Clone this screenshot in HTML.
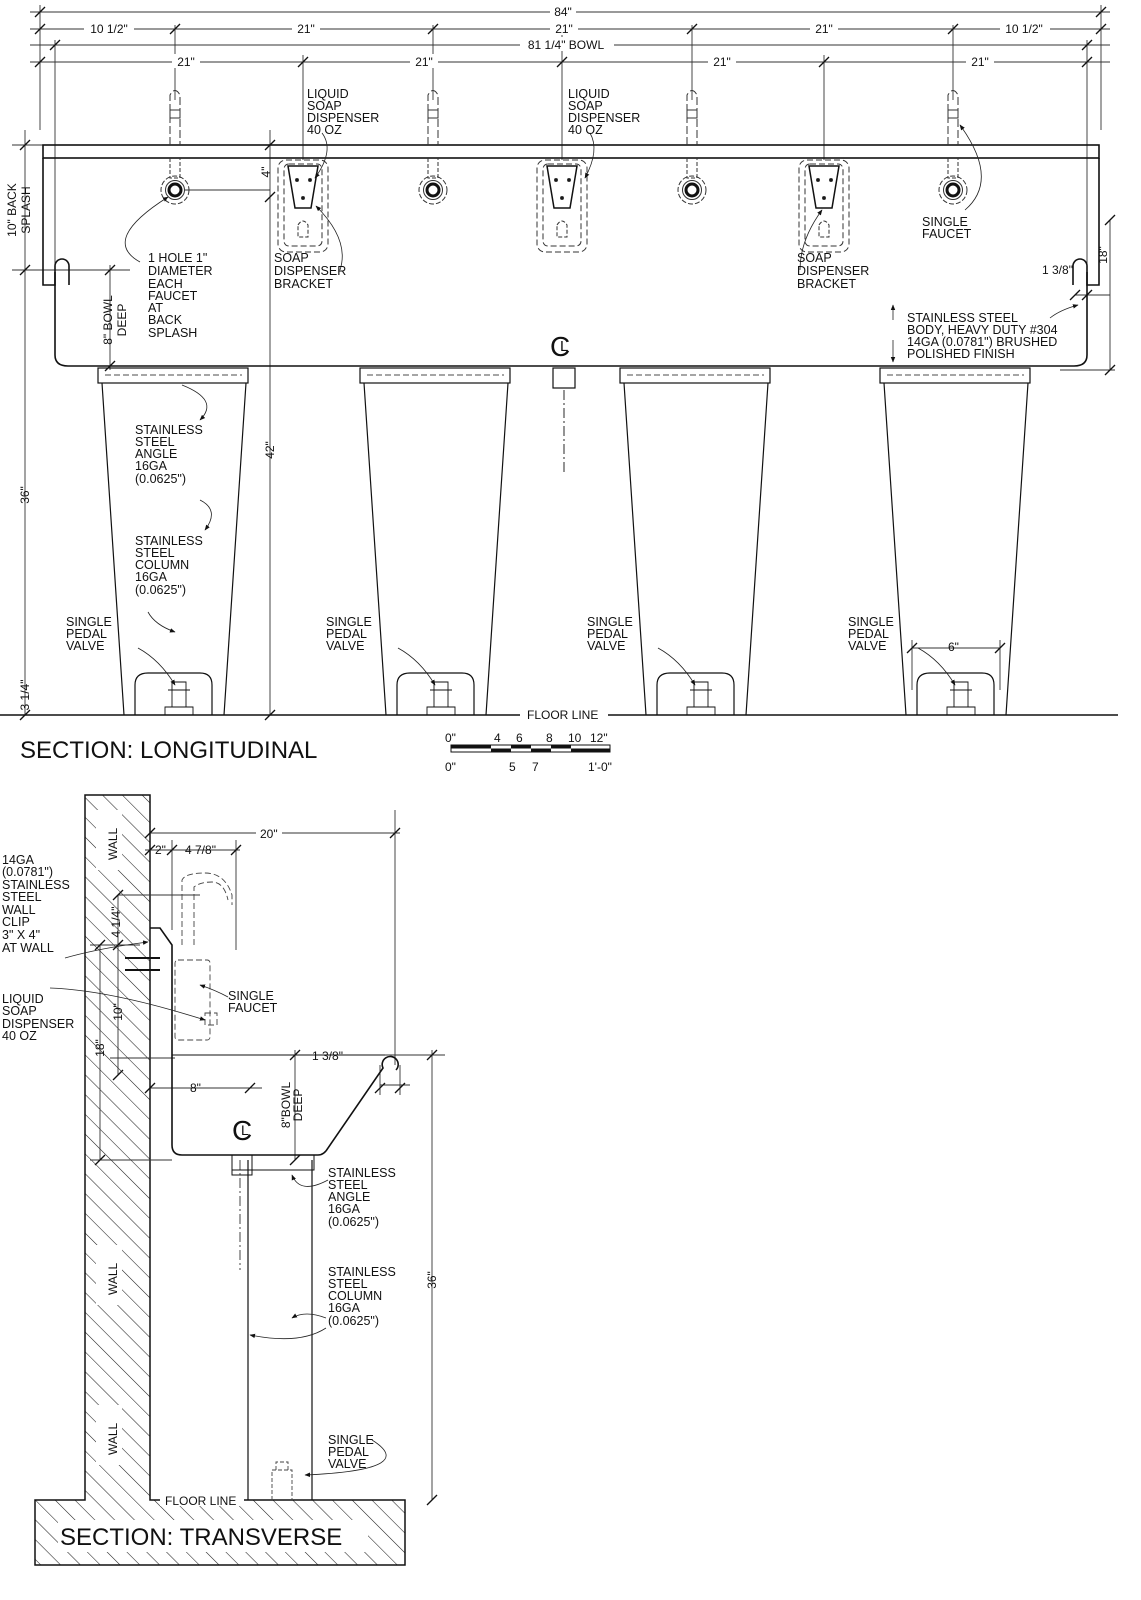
<!DOCTYPE html>
<html><head><meta charset="utf-8"><style>
html,body{margin:0;padding:0;background:#fff}
svg{display:block}
text{font-family:"Liberation Sans",Arial,sans-serif;fill:#111}
.t{font-size:12.5px}
.d{font-size:12px}
</style></head><body>
<svg width="1141" height="1600" viewBox="0 0 1141 1600" xmlns="http://www.w3.org/2000/svg">
<defs>
<pattern id="h" width="14" height="14" patternUnits="userSpaceOnUse" patternTransform="rotate(-45)">
<line x1="0" y1="0" x2="0" y2="14" stroke="#222" stroke-width="1.1"/></pattern>
<g id="tick"><line x1="-5" y1="5" x2="5" y2="-5" stroke="#111" stroke-width="1.3"/></g>
<marker id="ar" viewBox="0 0 10 10" refX="9" refY="5" markerWidth="7" markerHeight="7" orient="auto"><path d="M0 1 L10 5 L0 9 Z" fill="#111"/></marker>
</defs>
<g fill="none" stroke="#333" stroke-width="0.9">
<line x1="30" y1="12" x2="1110" y2="12"/>
<line x1="30" y1="29" x2="1110" y2="29"/>
<line x1="30" y1="45" x2="1110" y2="45"/>
<line x1="30" y1="62" x2="1110" y2="62"/>
<line x1="40" y1="5" x2="40" y2="130"/>
<line x1="1101" y1="5" x2="1101" y2="130"/>
<line x1="55" y1="40" x2="55" y2="285"/>
<line x1="1087" y1="40" x2="1087" y2="285"/>
<line x1="175" y1="25" x2="175" y2="100"/>
<line x1="433" y1="25" x2="433" y2="100"/>
<line x1="692" y1="25" x2="692" y2="100"/>
<line x1="953" y1="25" x2="953" y2="100"/>
<line x1="303" y1="55" x2="303" y2="160"/>
<line x1="562" y1="25" x2="562" y2="160"/>
<line x1="824" y1="55" x2="824" y2="160"/>
<line x1="25" y1="130" x2="25" y2="715"/>
<line x1="110" y1="265" x2="110" y2="370"/>
<line x1="270" y1="130" x2="270" y2="715"/>
<line x1="12" y1="145" x2="45" y2="145"/>
<line x1="12" y1="270" x2="130" y2="270"/>
<line x1="185" y1="190" x2="270" y2="190"/>
<line x1="1110" y1="220" x2="1110" y2="370"/>
<line x1="1075" y1="295" x2="1110" y2="295"/>
<line x1="1060" y1="370" x2="1115" y2="370"/>
<line x1="912" y1="648" x2="1000" y2="648"/>
<line x1="912" y1="640" x2="912" y2="690"/>
<line x1="1000" y1="640" x2="1000" y2="690"/>
</g>
<g>
<use href="#tick" x="40" y="12"/><use href="#tick" x="1101" y="12"/>
<use href="#tick" x="40" y="29"/><use href="#tick" x="175" y="29"/><use href="#tick" x="433" y="29"/><use href="#tick" x="692" y="29"/><use href="#tick" x="953" y="29"/><use href="#tick" x="1101" y="29"/>
<use href="#tick" x="55" y="45"/><use href="#tick" x="1087" y="45"/>
<use href="#tick" x="40" y="62"/><use href="#tick" x="303" y="62"/><use href="#tick" x="562" y="62"/><use href="#tick" x="824" y="62"/><use href="#tick" x="1087" y="62"/>
<use href="#tick" x="25" y="145"/><use href="#tick" x="25" y="270"/><use href="#tick" x="25" y="715"/>
<use href="#tick" x="110" y="270"/><use href="#tick" x="110" y="366"/>
<use href="#tick" x="270" y="145"/><use href="#tick" x="270" y="197"/><use href="#tick" x="270" y="715"/>
<use href="#tick" x="1110" y="220"/><use href="#tick" x="1110" y="370"/><use href="#tick" x="1075" y="295"/><use href="#tick" x="1087" y="295"/>
<use href="#tick" x="912" y="648"/><use href="#tick" x="1000" y="648"/>
</g>
<g class="d" text-anchor="middle">
<rect x="550" y="4" width="26" height="14" fill="#fff"/><text x="563" y="16">84"</text>
<rect x="84" y="21" width="50" height="14" fill="#fff"/><text x="109" y="33">10 1/2"</text>
<rect x="292" y="21" width="28" height="14" fill="#fff"/><text x="306" y="33">21"</text>
<rect x="550" y="21" width="28" height="14" fill="#fff"/><text x="564" y="33">21"</text>
<rect x="810" y="21" width="28" height="14" fill="#fff"/><text x="824" y="33">21"</text>
<rect x="1000" y="21" width="50" height="14" fill="#fff"/><text x="1024" y="33">10 1/2"</text>
<rect x="520" y="37" width="94" height="14" fill="#fff"/><text x="566" y="49">81 1/4" BOWL</text>
<rect x="172" y="54" width="28" height="14" fill="#fff"/><text x="186" y="66">21"</text>
<rect x="410" y="54" width="28" height="14" fill="#fff"/><text x="424" y="66">21"</text>
<rect x="708" y="54" width="28" height="14" fill="#fff"/><text x="722" y="66">21"</text>
<rect x="966" y="54" width="28" height="14" fill="#fff"/><text x="980" y="66">21"</text>
</g>
<g class="d">
<text transform="translate(16,210) rotate(-90)" text-anchor="middle">10" BACK</text>
<text transform="translate(30,210) rotate(-90)" text-anchor="middle">SPLASH</text>
<text transform="translate(112,320) rotate(-90)" text-anchor="middle">8" BOWL</text>
<text transform="translate(126,320) rotate(-90)" text-anchor="middle">DEEP</text>
<text transform="translate(29,495) rotate(-90)" text-anchor="middle">36"</text>
<text transform="translate(274,450) rotate(-90)" text-anchor="middle">42"</text>
<text transform="translate(270,172) rotate(-90)" text-anchor="middle">4"</text>
<text transform="translate(29,695) rotate(-90)" text-anchor="middle">3 1/4"</text>
<text transform="translate(1107,255) rotate(-90)" text-anchor="middle">18"</text>
<text x="1042" y="274">1 3/8"</text>
<text x="948" y="651">6"</text>
</g>
<g fill="none" stroke="#111" stroke-width="1.6">
<rect x="43" y="145" width="1056" height="13"/>
<path d="M43 158 V285 H55 V266 A7 7 0 0 1 69 266 V285"/>
<path d="M1099 158 V285 H1087 V266 A7 7 0 0 0 1073 266 V285"/>
<path d="M55 272 V355 Q55 366 68 366 H1074 Q1087 366 1087 355 V272"/>
</g>
<g fill="none" stroke="#111" stroke-width="1.2">
<g id="col">
<rect x="98" y="368" width="150" height="15"/>
<line x1="105" y1="375" x2="242" y2="375" stroke-dasharray="6 3" stroke-width="0.8"/>
<path d="M102 383 L124 715 M246 383 L224 715"/>
<path d="M135 715 V685 Q135 673 148 673 H200 Q212 673 212 685 V715"/>
<path d="M165 715 v-8 h28 v8 M172 707 v-25 h14 v25 M168 690 h22" stroke-width="0.9"/>
</g>
<use href="#col" x="262"/><use href="#col" x="522"/><use href="#col" x="782"/>
<rect x="553" y="368" width="22" height="20"/>
<line x1="564" y1="390" x2="564" y2="475" stroke-dasharray="10 3 2 3" stroke-width="0.9"/>
<line x1="0" y1="715" x2="1118" y2="715" stroke-width="1.6"/>
</g>
<g fill="none" stroke="#333" stroke-width="1">
<g id="fau">
<path d="M170 145 V95 Q175 86 180 95 V145" stroke-dasharray="8 3"/>
<rect x="170" y="110" width="10" height="8"/>
<path d="M170 158 V178 H180 V158" stroke-dasharray="4 2"/>
<circle cx="175" cy="190" r="14" stroke-dasharray="5 2"/>
<circle cx="175" cy="190" r="9.5"/>
<circle cx="175" cy="190" r="6" stroke-width="3" stroke="#111"/>
</g>
<use href="#fau" x="258"/><use href="#fau" x="517"/><use href="#fau" x="778"/>
<g id="soap">
<rect x="278" y="160" width="50" height="92" rx="8" stroke-dasharray="6 3"/>
<rect x="284" y="164" width="38" height="82" rx="5" stroke-dasharray="6 3"/>
<path d="M288 166 H318 L311 208 H295 Z" stroke="#111" stroke-width="1.5"/>
<circle cx="297" cy="180" r="1.5" fill="#111"/><circle cx="310" cy="180" r="1.5" fill="#111"/><circle cx="303" cy="198" r="1.5" fill="#111"/>
<path d="M298 225 q5 -8 10 0 v12 h-10 z" stroke-dasharray="4 2"/>
</g>
<use href="#soap" x="259"/><use href="#soap" x="521"/>
</g>
<g fill="none" stroke="#222" stroke-width="0.8" marker-end="url(#ar)">
<path d="M140 262 Q100 240 168 197"/>
<path d="M340 270 Q350 240 316 206"/>
<path d="M322 133 Q335 150 315 178"/>
<path d="M590 133 Q600 150 585 178"/>
<path d="M800 270 Q800 240 822 210"/>
<path d="M965 210 Q1000 180 960 125"/>
<path d="M182 385 Q220 400 200 420"/>
<path d="M200 500 Q220 510 205 530"/>
<path d="M148 612 Q155 625 175 632"/>
<path d="M138 648 Q160 660 175 685"/>
<path d="M398 648 Q420 660 435 685"/>
<path d="M658 648 Q680 660 695 685"/>
<path d="M918 648 Q940 660 955 685"/>
<path d="M1050 318 Q1060 310 1078 305"/>
<path d="M893 320 V305"/>
<path d="M893 340 V362"/>
</g>
<g class="t">
<text x="307" y="98">LIQUID</text><text x="307" y="110">SOAP</text><text x="307" y="122">DISPENSER</text><text x="307" y="134">40 OZ</text>
<text x="568" y="98">LIQUID</text><text x="568" y="110">SOAP</text><text x="568" y="122">DISPENSER</text><text x="568" y="134">40 OZ</text>
<text x="148" y="262">1 HOLE 1"</text><text x="148" y="275">DIAMETER</text><text x="148" y="288">EACH</text><text x="148" y="300">FAUCET</text><text x="148" y="312">AT</text><text x="148" y="324">BACK</text><text x="148" y="337">SPLASH</text>
<text x="274" y="262">SOAP</text><text x="274" y="275">DISPENSER</text><text x="274" y="288">BRACKET</text>
<text x="797" y="262">SOAP</text><text x="797" y="275">DISPENSER</text><text x="797" y="288">BRACKET</text>
<text x="922" y="226">SINGLE</text><text x="922" y="238">FAUCET</text>
<text x="907" y="322">STAINLESS STEEL</text><text x="907" y="334">BODY, HEAVY DUTY #304</text><text x="907" y="346">14GA (0.0781") BRUSHED</text><text x="907" y="358">POLISHED FINISH</text>
<text x="135" y="434">STAINLESS</text><text x="135" y="446">STEEL</text><text x="135" y="458">ANGLE</text><text x="135" y="470">16GA</text><text x="135" y="483">(0.0625")</text>
<text x="135" y="545">STAINLESS</text><text x="135" y="557">STEEL</text><text x="135" y="569">COLUMN</text><text x="135" y="581">16GA</text><text x="135" y="594">(0.0625")</text>
<text x="66" y="626">SINGLE</text><text x="66" y="638">PEDAL</text><text x="66" y="650">VALVE</text>
<text x="326" y="626">SINGLE</text><text x="326" y="638">PEDAL</text><text x="326" y="650">VALVE</text>
<text x="587" y="626">SINGLE</text><text x="587" y="638">PEDAL</text><text x="587" y="650">VALVE</text>
<text x="848" y="626">SINGLE</text><text x="848" y="638">PEDAL</text><text x="848" y="650">VALVE</text>
</g>
<text x="550" y="356" font-size="28">C</text>
<text x="560" y="351" font-size="15">L</text>
<rect x="520" y="709" width="88" height="12" fill="#fff"/><text x="527" y="719" class="d">FLOOR LINE</text>
<text x="20" y="758" font-size="24">SECTION: LONGITUDINAL</text>
<g>
<rect x="451" y="745" width="159" height="7" fill="#fff" stroke="#111"/>
<rect x="451" y="745" width="40" height="3.5" fill="#111"/><rect x="491" y="748.5" width="20" height="3.5" fill="#111"/>
<rect x="511" y="745" width="20" height="3.5" fill="#111"/><rect x="531" y="748.5" width="20" height="3.5" fill="#111"/>
<rect x="551" y="745" width="20" height="3.5" fill="#111"/><rect x="571" y="748.5" width="39" height="3.5" fill="#111"/>
<g class="d"><text x="445" y="742">0"</text><text x="494" y="742">4</text><text x="516" y="742">6</text><text x="546" y="742">8</text><text x="568" y="742">10</text><text x="590" y="742">12"</text>
<text x="445" y="771">0"</text><text x="509" y="771">5</text><text x="532" y="771">7</text><text x="588" y="771">1'-0"</text></g>
</g>
<path d="M85 795 H150 V1500 H405 V1565 H35 V1500 H85 Z" fill="url(#h)" stroke="#111" stroke-width="1.5"/>
<rect x="96" y="810" width="26" height="60" fill="#fff"/>
<text transform="translate(117,860) rotate(-90)" class="d">WALL</text>
<rect x="96" y="1245" width="26" height="60" fill="#fff"/>
<text transform="translate(117,1295) rotate(-90)" class="d">WALL</text>
<rect x="96" y="1405" width="26" height="60" fill="#fff"/>
<text transform="translate(117,1455) rotate(-90)" class="d">WALL</text>
<g fill="none" stroke="#333" stroke-width="0.9">
<line x1="150" y1="833" x2="400" y2="833"/>
<line x1="395" y1="810" x2="395" y2="1065"/>
<line x1="145" y1="850" x2="240" y2="850"/>
<line x1="172" y1="840" x2="172" y2="930"/>
<line x1="236" y1="840" x2="236" y2="950"/>
<line x1="118" y1="895" x2="118" y2="1075"/>
<line x1="100" y1="945" x2="100" y2="1160"/>
<line x1="118" y1="895" x2="200" y2="895"/>
<line x1="90" y1="945" x2="140" y2="945"/>
<line x1="110" y1="1058" x2="175" y2="1058"/>
<line x1="90" y1="1160" x2="172" y2="1160"/>
<line x1="150" y1="1088" x2="262" y2="1088"/>
<line x1="295" y1="1050" x2="295" y2="1160"/>
<line x1="385" y1="1055" x2="445" y2="1055"/>
<line x1="432" y1="1050" x2="432" y2="1500"/>
<line x1="380" y1="1085" x2="410" y2="1085"/>
<line x1="380" y1="1065" x2="380" y2="1095"/>
<line x1="400" y1="1065" x2="400" y2="1095"/>
<line x1="240" y1="1160" x2="240" y2="1270" stroke-dasharray="10 3 2 3"/>
</g>
<g>
<use href="#tick" x="150" y="833"/><use href="#tick" x="395" y="833"/>
<use href="#tick" x="150" y="850"/><use href="#tick" x="172" y="850"/><use href="#tick" x="236" y="850"/>
<use href="#tick" x="118" y="895"/><use href="#tick" x="118" y="945"/><use href="#tick" x="118" y="1075"/>
<use href="#tick" x="100" y="945"/><use href="#tick" x="100" y="1160"/>
<use href="#tick" x="150" y="1088"/><use href="#tick" x="250" y="1088"/>
<use href="#tick" x="295" y="1055"/><use href="#tick" x="295" y="1160"/>
<use href="#tick" x="380" y="1088"/><use href="#tick" x="400" y="1088"/>
<use href="#tick" x="432" y="1055"/><use href="#tick" x="432" y="1500"/>
</g>
<g class="d">
<rect x="256" y="826" width="26" height="14" fill="#fff"/><text x="260" y="838">20"</text>
<text x="155" y="854">2"</text><text x="185" y="854">4 7/8"</text>
<text transform="translate(120,922) rotate(-90)" text-anchor="middle">4 1/4"</text>
<text transform="translate(122,1012) rotate(-90)" text-anchor="middle">10"</text>
<text transform="translate(104,1048) rotate(-90)" text-anchor="middle">18"</text>
<text x="190" y="1092">8"</text>
<text x="312" y="1060">1 3/8"</text>
<text transform="translate(290,1105) rotate(-90)" text-anchor="middle">8"BOWL</text>
<text transform="translate(302,1105) rotate(-90)" text-anchor="middle">DEEP</text>
<text transform="translate(436,1280) rotate(-90)" text-anchor="middle">36"</text>
</g>
<g fill="none" stroke="#111" stroke-width="1.6">
<path d="M150 928 H160 L172 945 V1145 Q172 1155 182 1155 H318 Q324 1155 328 1148 L383 1068 A8 8 0 1 1 396 1070"/>
<line x1="172" y1="1055" x2="385" y2="1055" stroke-width="1"/>
<path d="M248 1160 V1500 M312 1160 V1500" stroke-width="1.2"/>
<rect x="232" y="1155" width="82" height="15" stroke-width="1"/>
<rect x="232" y="1155" width="20" height="20" stroke-width="1"/>
</g>
<g fill="none" stroke="#444" stroke-width="0.9" stroke-dasharray="6 3">
<path d="M182 945 V880 Q185 873 205 873 Q225 873 232 895 V905"/>
<path d="M194 945 V887 Q200 882 212 882 Q224 882 228 900"/>
<rect x="175" y="960" width="35" height="80" rx="3"/>
<rect x="205" y="1013" width="12" height="12"/>
</g>
<g stroke="#111" stroke-width="2"><line x1="125" y1="958" x2="160" y2="958"/><line x1="125" y1="970" x2="160" y2="970"/></g>
<path d="M272 1500 v-30 h20 v30 M276 1470 v-8 h12 v8" fill="none" stroke="#444" stroke-width="0.9" stroke-dasharray="4 2"/>
<text x="232" y="1140" font-size="28">C</text><text x="241" y="1135" font-size="14">L</text>
<g fill="none" stroke="#222" stroke-width="0.8" marker-end="url(#ar)">
<path d="M65 958 Q100 948 148 942"/>
<path d="M50 988 Q110 990 205 1020"/>
<path d="M228 997 Q215 990 200 985"/>
<path d="M328 1180 Q300 1195 292 1175"/>
<path d="M326 1328 Q300 1345 250 1335"/>
<path d="M326 1318 Q305 1310 292 1318"/>
<path d="M372 1440 Q420 1470 305 1475"/>
</g>
<g class="t">
<text x="2" y="864">14GA</text><text x="2" y="876">(0.0781")</text><text x="2" y="889">STAINLESS</text><text x="2" y="901">STEEL</text><text x="2" y="914">WALL</text><text x="2" y="926">CLIP</text><text x="2" y="939">3" X 4"</text><text x="2" y="952">AT WALL</text>
<text x="2" y="1003">LIQUID</text><text x="2" y="1015">SOAP</text><text x="2" y="1028">DISPENSER</text><text x="2" y="1040">40 OZ</text>
<text x="228" y="1000">SINGLE</text><text x="228" y="1012">FAUCET</text>
<text x="328" y="1177">STAINLESS</text><text x="328" y="1189">STEEL</text><text x="328" y="1201">ANGLE</text><text x="328" y="1213">16GA</text><text x="328" y="1226">(0.0625")</text>
<text x="328" y="1276">STAINLESS</text><text x="328" y="1288">STEEL</text><text x="328" y="1300">COLUMN</text><text x="328" y="1312">16GA</text><text x="328" y="1325">(0.0625")</text>
<text x="328" y="1444">SINGLE</text><text x="328" y="1456">PEDAL</text><text x="328" y="1468">VALVE</text>
</g>
<rect x="160" y="1494" width="84" height="12" fill="#fff"/><text x="165" y="1505" class="d">FLOOR LINE</text>
<rect x="58" y="1520" width="310" height="32" fill="#fff"/>
<text x="60" y="1545" font-size="24">SECTION: TRANSVERSE</text>
</svg>
</body></html>
